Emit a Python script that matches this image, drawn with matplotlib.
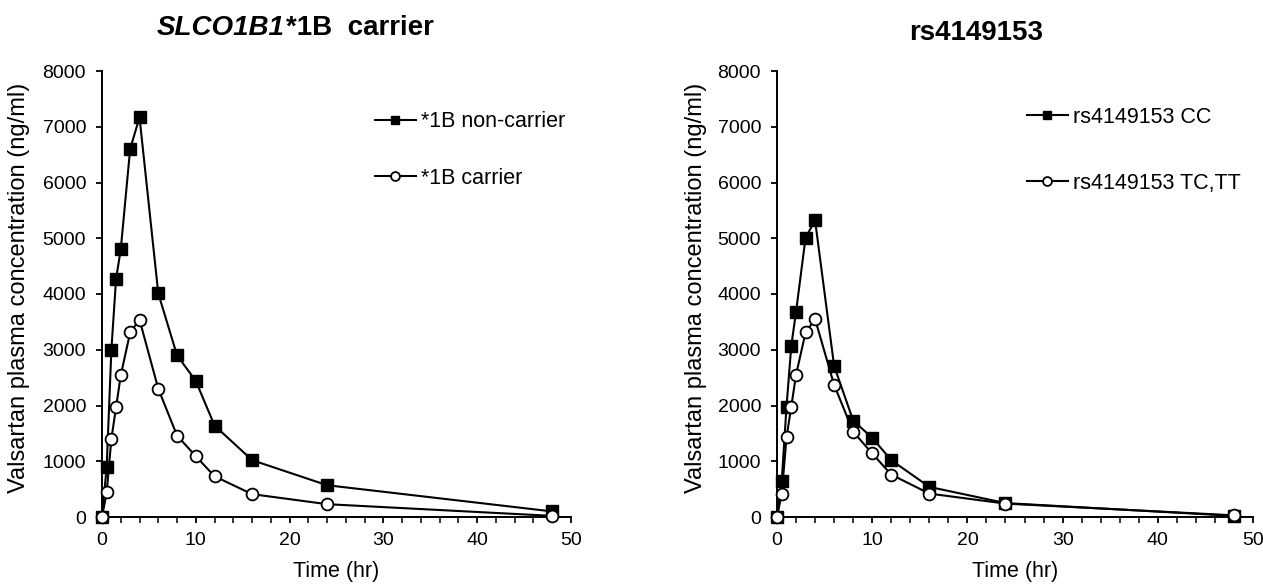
import matplotlib
matplotlib.use("Agg")
import matplotlib.pyplot as plt
from matplotlib.ticker import MultipleLocator

plt.rcParams['font.family'] = ['Liberation Sans', 'DejaVu Sans']

time_hr = [0, 0.5, 1, 1.5, 2, 3, 4, 6, 8, 10, 12, 16, 24, 48]

noncarrier = [0, 900, 3000, 4270, 4800, 6600, 7170, 4010, 2900, 2440, 1640, 1020, 570, 100]
carrier = [0, 440, 1400, 1970, 2540, 3310, 3540, 2300, 1460, 1090, 730, 410, 230, 20]

rs_cc = [0, 650, 1980, 3070, 3680, 5010, 5320, 2710, 1730, 1420, 1020, 540, 250, 20]
rs_tctt = [0, 420, 1430, 1980, 2550, 3310, 3550, 2370, 1530, 1140, 760, 420, 240, 30]

legend_left = ["*1B non-carrier", "*1B carrier"]
legend_right = ["rs4149153 CC", "rs4149153 TC,TT"]

fig = plt.figure(figsize=(12.63, 5.85), dpi=100)
W, H = 1263, 585
Y0, Y1 = 71, 517

def make_ax(x0, x1):
    return fig.add_axes([x0 / W, 1 - Y1 / H, (x1 - x0) / W, (Y1 - Y0) / H])

axL = make_ax(102, 571)
axR = make_ax(777, 1253)

def style(ax, s1, s2, labels, leg_x, leg_y, spacing, ylab_x):
    ax.plot(time_hr, s1, '-', color='black', lw=1.5, marker='s', ms=8,
            mfc='black', mec='black', clip_on=False, zorder=3, label=labels[0])
    ax.plot(time_hr, s2, '-', color='black', lw=1.5, marker='o', ms=8.5,
            mfc='white', mec='black', mew=1.3, clip_on=False, zorder=3, label=labels[1])
    ax.set_xlim(0, 50)
    ax.set_ylim(0, 8000)
    ax.xaxis.set_major_locator(MultipleLocator(10))
    ax.xaxis.set_minor_locator(MultipleLocator(2))
    ax.yaxis.set_major_locator(MultipleLocator(1000))
    for sp in ['top', 'right']:
        ax.spines[sp].set_visible(False)
    for sp in ['left', 'bottom']:
        ax.spines[sp].set_linewidth(1.4)
    ax.tick_params(axis='both', which='major', direction='out', length=4.5, width=1.3,
                   labelsize=14, colors='black')
    ax.tick_params(axis='x', which='major', pad=6)
    ax.tick_params(axis='y', which='major', pad=7)
    ax.tick_params(axis='x', which='minor', direction='out', length=4.5, width=1.1)
    ax.set_xlabel('Time (hr)', fontsize=15.5)
    ax.set_ylabel('Valsartan plasma concentration (ng/ml)', fontsize=17)
    bb = ax.get_position()
    x0p = bb.x0 * W
    wp = bb.width * W
    ax.yaxis.set_label_coords((ylab_x - x0p) / wp, 1 - (288 - Y0) / (Y1 - Y0))
    ax.xaxis.set_label_coords(0.5, -(572 - Y1) / (Y1 - Y0))
    ax.xaxis.label.set_va('center')
    ax.yaxis.label.set_va('center')
    leg = ax.legend(loc='center left', bbox_to_anchor=(leg_x, leg_y), frameon=False,
                    fontsize=15.5, handlelength=1.9, handletextpad=0.25,
                    labelspacing=spacing, borderaxespad=0, borderpad=0,
                    markerscale=0.75)
    return leg

style(axL, noncarrier, carrier, legend_left,
      (375 - 102) / 469, 1 - (150 - Y0) / (Y1 - Y0), 1.64, 19)
style(axR, rs_cc, rs_tctt, legend_right,
      (1027 - 777) / 476, 1 - (150.5 - Y0) / (Y1 - Y0), 2.09, 696)

# Titles
fig.canvas.draw()
renderer = fig.canvas.get_renderer()
ty = 1 - 28 / H
t1 = fig.text(0, ty, 'SLCO1B1', fontsize=20, fontweight='bold', fontstyle='italic',
              ha='left', va='center')
t2 = fig.text(0, ty, '*1B  carrier', fontsize=20, fontweight='bold',
              ha='left', va='center')
w1 = t1.get_window_extent(renderer).width
w2 = t2.get_window_extent(renderer).width
cx = 295
start = cx - (w1 + w2) / 2
t1.set_x(start / W)
t2.set_x((start + w1 + 1) / W)

fig.text(976 / W, 1 - 33 / H, 'rs4149153', fontsize=20, fontweight='bold',
         ha='center', va='center')

fig.savefig('out.png', dpi=100, facecolor='white')
